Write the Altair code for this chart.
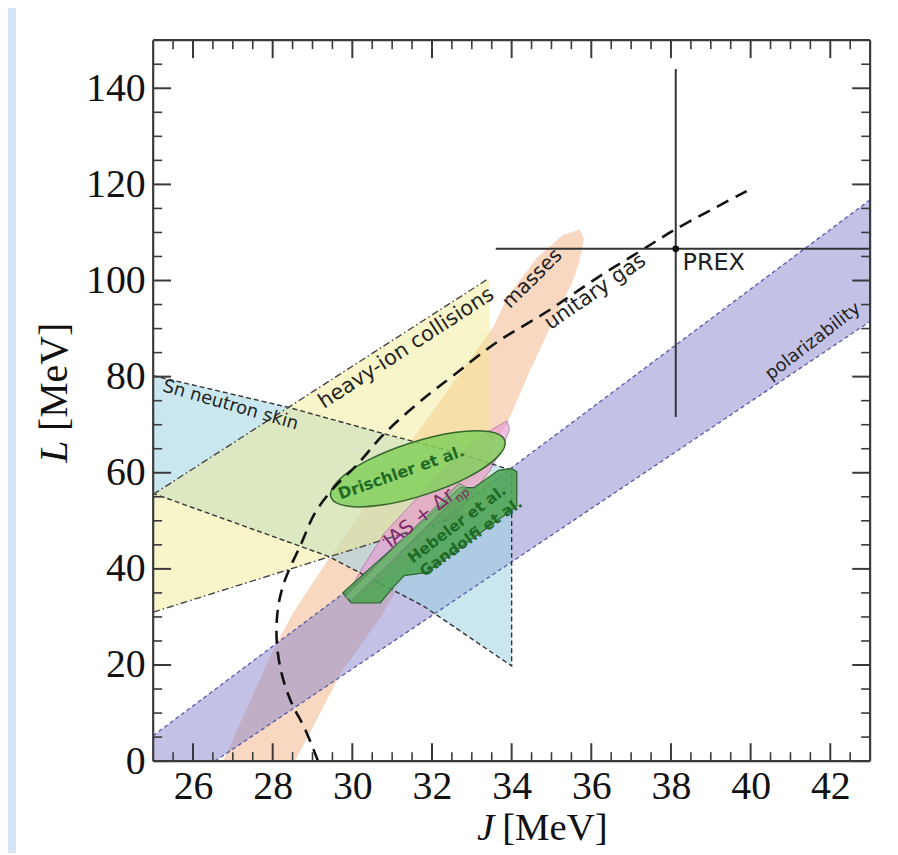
import altair as alt
import numpy as np
import pandas as pd

# ---------------- data (J, L in MeV) ----------------
X_LABELS = [26, 28, 30, 32, 34, 36, 38, 40, 42]
Y_LABELS = [0, 20, 40, 60, 80, 100, 120, 140]
X_MINOR = [v for v in np.arange(25.5, 43.0, 0.5) if v % 2 != 0]
Y_MINOR = [v for v in range(5, 150, 5) if v % 20 != 0]

POL_J = [25.0, 25.0, 43.0, 43.0, 26.55]
POL_L = [0.0, 5.3, 116.8, 91.5, 0.0]
POL_UP_J = [25.0, 43.0]
POL_UP_L = [5.3, 116.8]
POL_LO_J = [26.55, 43.0]
POL_LO_L = [0.0, 91.5]

MAS_J = [26.75, 28.06, 28.56, 29.39, 31.55, 33.55, 33.88, 34.63, 35.29, 35.71,
         35.82, 35.70, 35.54, 35.04, 34.46, 33.88, 31.22, 30.72, 29.72, 28.56]
MAS_L = [0.0, 23.9, 31.5, 41.9, 67.4, 90.5, 96.4, 104.7, 109.5, 110.6,
         108.5, 104.0, 99.9, 91.6, 81.2, 70.2, 37.1, 30.1, 18.4, 0.0]

HIC_J = [25.0, 25.0, 33.4, 33.45, 33.45]
HIC_L = [31.0, 55.5, 100.3, 99.6, 53.0]
HIC_UP_J = [25.0, 33.4]
HIC_UP_L = [55.5, 100.3]
HIC_LO_J = [25.0, 33.45]
HIC_LO_L = [31.0, 53.0]

SN_J = [25.0, 28.4, 30.8, 32.7, 34.0, 34.0, 31.8, 29.4, 25.0]
SN_L = [80.2, 73.6, 68.1, 64.0, 60.5, 19.8, 32.2, 42.6, 55.7]

IAS_J = [30.0, 30.22, 30.8, 31.6, 32.5, 33.3, 33.88, 33.95, 33.75, 33.46, 32.5, 31.3, 30.4]
IAS_L = [36.5, 39.8, 47.4, 54.5, 62.2, 68.0, 70.8, 69.0, 65.0, 60.5, 50.0, 40.5, 36.0]

DRI_J = [33.83, 33.64, 32.92, 31.85, 30.74, 29.86, 29.46, 29.65, 30.37, 31.44, 32.56, 33.43]
DRI_L = [66.71, 63.25, 59.15, 55.51, 53.27, 53.08, 54.95, 58.41, 62.51, 66.15, 68.39, 68.57]

GAN_J = [29.76, 29.97, 30.70, 31.05, 31.30, 31.85, 34.13, 34.13, 34.00, 33.67, 33.05, 32.71]
GAN_L = [35.0, 32.9, 32.9, 36.4, 38.6, 39.2, 53.0, 60.2, 60.9, 60.5, 56.9, 56.9]

HEB_J = [29.81, 32.68, 32.86, 29.99]
HEB_L = [34.2, 57.8, 57.0, 33.4]

UG_J = [29.14, 28.81, 28.47, 28.22, 28.10, 28.14, 28.31, 28.72, 29.06, 29.56,
        30.10, 30.80, 31.80, 32.50, 33.60, 34.90, 36.10, 37.40, 38.10, 39.90]
UG_L = [0.0, 6.7, 12.2, 18.4, 25.3, 32.2, 37.7, 45.3, 51.6, 57.1,
        61.5, 68.1, 75.5, 80.0, 87.0, 93.6, 100.3, 107.0, 110.6, 118.6]

PREX_J = [38.12]
PREX_L = [106.6]
PREX_JRANGE = [33.6, 43.0]
PREX_LRANGE = [71.6, 144.0]

# ---------------- styling ----------------
W, H = 721, 725
SERIF = "Liberation Serif"
SANS = "DejaVu Sans"
AXC = "#3a3a3a"

xs = alt.Scale(domain=[25, 43], nice=False, zero=False)
ys = alt.Scale(domain=[0, 150], nice=False, zero=False)
XAX = alt.Axis(values=X_LABELS, ticks=False, domain=False, grid=False, labelFont=SERIF,
               labelFontSize=40, labelColor="#111", labelPadding=6, title=None,
               labelFlush=False, zindex=1)
YAX = alt.Axis(values=Y_LABELS, ticks=False, domain=False, grid=False, labelFont=SERIF,
               labelFontSize=40, labelColor="#111", labelPadding=8, title=None,
               labelFlush=False, zindex=1)


def X(f):
    return alt.X(f"{f}:Q", scale=xs, axis=XAX)


def Y(f):
    return alt.Y(f"{f}:Q", scale=ys, axis=YAX)


def sdf(J, L):
    return pd.DataFrame({"J": J, "L": L, "i": list(range(len(J)))})


def polygon(J, L, fill, op, stroke=None, sw=0, interp="linear-closed"):
    kw = dict(fill=fill, fillOpacity=op, interpolate=interp, clip=True)
    if stroke:
        kw.update(stroke=stroke, strokeWidth=sw)
    else:
        kw.update(strokeOpacity=0, strokeWidth=0)
    return alt.Chart(sdf(J, L)).mark_line(**kw).encode(x=X("J"), y=Y("L"), order="i:Q")


def polyline(J, L, color, sw, dash=None, interp="linear"):
    kw = dict(color=color, strokeWidth=sw, interpolate=interp, clip=True)
    if dash:
        kw["strokeDash"] = dash
    return alt.Chart(sdf(J, L)).mark_line(**kw).encode(x=X("J"), y=Y("L"), order="i:Q")


def label(t, J, L, angle, size, color="#222", weight="normal", align="center"):
    d = pd.DataFrame({"J": [J], "L": [L], "t": [t]})
    return alt.Chart(d).mark_text(angle=angle, fontSize=size, color=color, font=SANS,
                                  fontWeight=weight, align=align, baseline="middle").encode(
        x=X("J"), y=Y("L"), text="t:N")


def xticks(vals, ln, sw):
    d = pd.DataFrame({"v": vals})
    b = alt.Chart(d).mark_rule(color=AXC, strokeWidth=sw)
    return [b.encode(x=X("v"), y=alt.value(H), y2=alt.value(H - ln)),
            b.encode(x=X("v"), y=alt.value(0), y2=alt.value(ln))]


def yticks(vals, ln, sw):
    d = pd.DataFrame({"v": vals})
    b = alt.Chart(d).mark_rule(color=AXC, strokeWidth=sw)
    return [b.encode(y=Y("v"), x=alt.value(0), x2=alt.value(ln)),
            b.encode(y=Y("v"), x=alt.value(W), x2=alt.value(W - ln))]


one = pd.DataFrame({"t": ["J"]})
panel = alt.Chart(one).mark_rect(color="white", clip=False).encode(
    x=alt.value(-138), x2=alt.value(W + 60), y=alt.value(-40), y2=alt.value(H + 130))

layers = [panel]
# filled regions
layers.append(polygon(MAS_J, MAS_L, "#f4bb95", 0.58))
layers.append(polygon(POL_J, POL_L, "#8783cb", 0.5))
layers.append(polygon(SN_J, SN_L, "#9ed3e3", 0.55))
layers.append(polygon(HIC_J, HIC_L, "#f2e98a", 0.45))
layers.append(polygon(IAS_J, IAS_L, "#e796d2", 0.62, stroke="#b070a8", sw=0.8))
# edges
layers.append(polyline(POL_UP_J, POL_UP_L, "#5a58a8", 1.3, [4, 3]))
layers.append(polyline(POL_LO_J, POL_LO_L, "#5a58a8", 1.3, [4, 3]))
layers.append(polyline(SN_J, SN_L, "#333333", 1.4, [5, 3]))
layers.append(polyline(HIC_UP_J, HIC_UP_L, "#444444", 1.4, [7, 3, 1.5, 3]))
layers.append(polyline(HIC_LO_J, HIC_LO_L, "#444444", 1.4, [7, 3, 1.5, 3]))
# theory regions
layers.append(polygon(DRI_J, DRI_L, "#84d05e", 0.85, stroke="#35652b", sw=1.5,
                      interp="cardinal-closed"))
layers.append(polygon(GAN_J, GAN_L, "#4fa553", 0.88, stroke="#2e6233", sw=1.2))
layers.append(polygon(HEB_J, HEB_L, "#7dbb7d", 0.6, stroke="#6e7f6e", sw=1.0))
# unitary gas
layers.append(polyline(UG_J, UG_L, "#111111", 2.6, [13, 8], interp="catmull-rom"))
# PREX
layers.append(alt.Chart(pd.DataFrame({"J": PREX_JRANGE, "L": PREX_L * 2, "i": [0, 1]}))
              .mark_line(color="#333", strokeWidth=2, clip=True)
              .encode(x=X("J"), y=Y("L"), order="i:Q"))
layers.append(alt.Chart(pd.DataFrame({"J": PREX_J * 2, "L": PREX_LRANGE, "i": [0, 1]}))
              .mark_line(color="#333", strokeWidth=2, clip=True)
              .encode(x=X("J"), y=Y("L"), order="i:Q"))
layers.append(alt.Chart(pd.DataFrame({"J": PREX_J, "L": PREX_L}))
              .mark_point(filled=True, color="#111", size=45, opacity=1)
              .encode(x=X("J"), y=Y("L")))
# labels
layers += [
    label("heavy-ion collisions", 31.36, 85.9, 327, 21),
    label("masses", 34.52, 100.4, 315, 20),
    label("unitary gas", 36.10, 97.6, 325.5, 21),
    label("PREX", 38.29, 103.6, 0, 24, align="left"),
    label("polarizability", 41.57, 87.3, 322.5, 18),
    label("Sn neutron skin", 26.94, 74.0, 16, 18),
    label("Drischler et al.", 31.23, 60.0, 340.5, 16, color="#1f6b25", weight="bold"),
    label("IAS + \u0394r", 31.68, 50.5, 322, 20, color="#7e2b66"),
    label("np", 32.76, 55.3, 322, 12, color="#7e2b66"),
    label("Hebeler et al.", 32.63, 49.3, 323, 15.5, color="#1f6b25", weight="bold"),
    label("Gandolfi et al.", 32.98, 46.6, 324, 15.5, color="#1f6b25", weight="bold"),
]
# ticks (inward) and frame
layers += xticks(X_LABELS, 18, 2) + xticks(X_MINOR, 9, 1.6)
layers += yticks(Y_LABELS, 18, 2) + yticks(Y_MINOR, 9, 1.6)
frame = alt.Chart(one).mark_rule(color=AXC, strokeWidth=2.2)
layers += [
    frame.encode(x=alt.value(0), x2=alt.value(W), y=alt.value(0)),
    frame.encode(x=alt.value(0), x2=alt.value(W), y=alt.value(H)),
    frame.encode(y=alt.value(0), y2=alt.value(H), x=alt.value(0)),
    frame.encode(y=alt.value(0), y2=alt.value(H), x=alt.value(W)),
]
# axis titles (italic symbol + upright unit)
layers += [
    alt.Chart(pd.DataFrame({"t": ["J"]})).mark_text(font=SERIF, fontSize=39, fontStyle="italic",
        align="right", baseline="alphabetic", color="#111").encode(
        x=alt.value(343), y=alt.value(804), text="t:N"),
    alt.Chart(pd.DataFrame({"t": ["[MeV]"]})).mark_text(font=SERIF, fontSize=39,
        align="left", baseline="alphabetic", color="#111").encode(
        x=alt.value(351), y=alt.value(804), text="t:N"),
    alt.Chart(pd.DataFrame({"t": ["L"]})).mark_text(font=SERIF, fontSize=40, fontStyle="italic",
        align="left", baseline="alphabetic", angle=270, color="#111").encode(
        x=alt.value(-87), y=alt.value(425), text="t:N"),
    alt.Chart(pd.DataFrame({"t": ["[MeV]"]})).mark_text(font=SERIF, fontSize=40,
        align="left", baseline="alphabetic", angle=270, color="#111").encode(
        x=alt.value(-87), y=alt.value(393), text="t:N"),
]

chart = alt.layer(*layers).properties(
    width=W, height=H,
    autosize=alt.AutoSizeParams(type="none"),
    padding={"left": 146, "top": 30, "right": 20, "bottom": 90},
    background="#d5e5f4",
).configure_view(strokeWidth=0)

chart.save("out.html", embed_options={"renderer": "svg", "actions": False})
